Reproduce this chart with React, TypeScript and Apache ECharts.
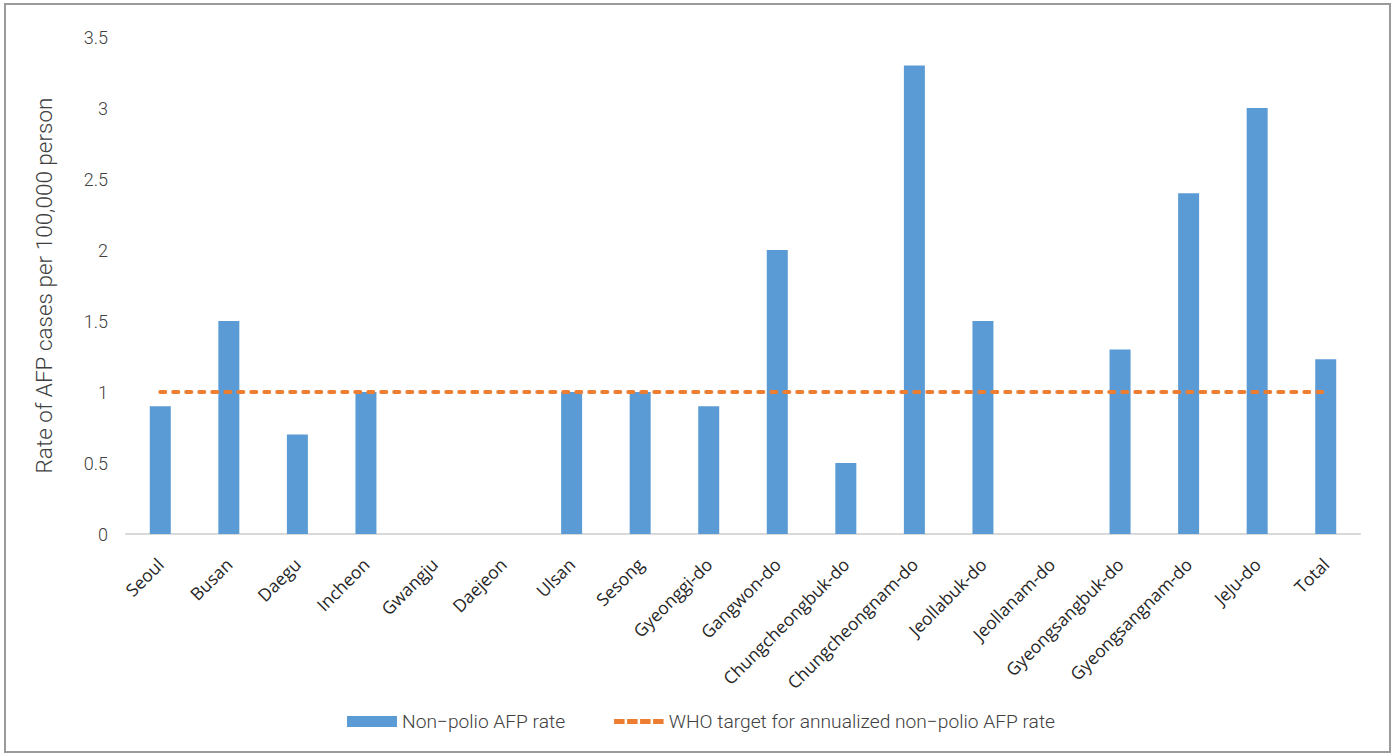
import React, { useEffect, useRef } from "react";
import * as echarts from "echarts";

const regions = [
  "Seoul", "Busan", "Daegu", "Incheon", "Gwangju", "Daejeon", "Ulsan", "Sesong",
  "Gyeonggi-do", "Gangwon-do", "Chungcheongbuk-do", "Chungcheongnam-do",
  "Jeollabuk-do", "Jeollanam-do", "Gyeongsangbuk-do", "Gyeongsangnam-do",
  "JeJu-do", "Total",
];

const afpRates = [0.9, 1.5, 0.7, 1.0, 0, 0, 1.0, 1.0, 0.9, 2.0, 0.5, 3.3, 1.5, 0, 1.3, 2.4, 3.0, 1.23];

const whoTarget = 1;
const whoTargetLine = regions.map(() => whoTarget);

const seriesNames = ["Non−polio AFP rate", "WHO target for annualized non−polio AFP rate"];
const yAxisTitle = "Rate of AFP cases per 100,000 person";

const AXIS_FONT = "Roboto, 'Noto Sans', sans-serif";
const TEXT = "#404040";

// Four short dashes, padded to the same box as the bar swatch
const DASH_ICON =
  "path://M0,0h0.01v0.01h-0.01z M0,10.99h0.01v0.01h-0.01z " +
  "M0,3h10.5v5h-10.5z M13,3h10.5v5h-10.5z M26,3h10.5v5h-10.5z M39,3h10.5v5h-10.5z";

export default function App() {
  const ref = useRef<HTMLDivElement>(null);

  useEffect(() => {
    if (!ref.current) return;
    const chart = echarts.init(ref.current, undefined, { renderer: "svg" });
    chart.setOption({
      animation: false,
      backgroundColor: "#ffffff",
      graphic: [
        {
          type: "rect",
          shape: { x: 5, y: 4, width: 1385, height: 748 },
          style: { fill: "none", stroke: "#9a9a9a", lineWidth: 2 },
          silent: true,
        },
      ],
      grid: { left: 126, right: 40, top: 37, bottom: 219, containLabel: false },
      legend: {
        left: 347,
        top: 712,
        padding: 0,
        itemWidth: 50,
        itemHeight: 11,
        itemGap: 49,
        textStyle: { fontFamily: AXIS_FONT, fontWeight: 300, fontSize: 19.2, color: TEXT },
        data: [
          { name: seriesNames[0], icon: "rect" },
          { name: seriesNames[1], icon: DASH_ICON },
        ],
      },
      xAxis: {
        type: "category",
        data: regions,
        axisLine: { lineStyle: { color: "#d9d9d9", width: 2 } },
        axisTick: { show: false },
        axisLabel: {
          rotate: 45,
          margin: 27,
          interval: 0,
          fontFamily: "'Open Sans', 'Noto Sans', sans-serif",
          fontSize: 17.5,
          color: "#262626",
        },
      },
      yAxis: {
        type: "value",
        min: 0,
        max: 3.5,
        interval: 0.5,
        name: yAxisTitle,
        nameLocation: "middle",
        nameGap: 71,
        nameRotate: 90,
        nameTextStyle: { fontFamily: AXIS_FONT, fontWeight: 300, fontSize: 22.5, color: TEXT },
        axisLine: { show: false },
        axisTick: { show: false },
        splitLine: { show: false },
        axisLabel: {
          margin: 18,
          fontFamily: AXIS_FONT,
          fontWeight: 300,
          fontSize: 18,
          color: TEXT,
        },
      },
      series: [
        {
          name: seriesNames[0],
          type: "bar",
          data: afpRates,
          barWidth: 21,
          itemStyle: { color: "#5b9bd5" },
        },
        {
          name: seriesNames[1],
          type: "line",
          data: whoTargetLine,
          symbol: "none",
          z: 3,
          lineStyle: { color: "#ed7d31", width: 4, type: [5, 8], cap: "round" },
          itemStyle: { color: "#ed7d31" },
        },
      ],
    });
    return () => chart.dispose();
  }, []);

  return (
    <div
      ref={ref}
      style={{ position: "fixed", left: 0, top: 0, width: 1400, height: 753 }}
    />
  );
}
